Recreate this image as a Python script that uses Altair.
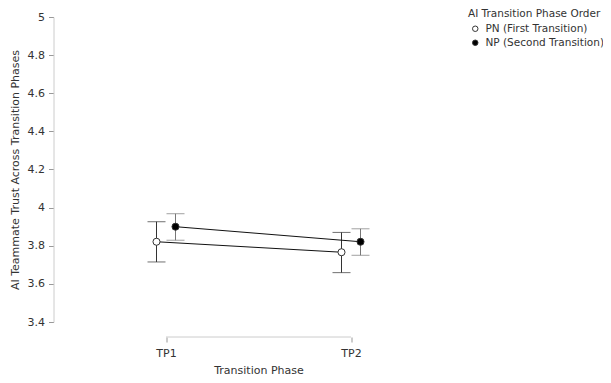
import altair as alt
import pandas as pd

phases = ["TP1", "TP2"]
orders = ["PN (First Transition)", "NP (Second Transition)"]
pn_mean = [3.821, 3.766]
pn_lower = [3.715, 3.659]
pn_upper = [3.926, 3.870]
np_mean = [3.900, 3.821]
np_lower = [3.829, 3.750]
np_upper = [3.968, 3.889]
y_ticks = [3.4, 3.6, 3.8, 4.0, 4.2, 4.4, 4.6, 4.8, 5.0]

rows = []
for i, p in enumerate(phases):
    rows.append({"phase": p, "order": orders[0], "mean": pn_mean[i], "lo": pn_lower[i], "hi": pn_upper[i]})
    rows.append({"phase": p, "order": orders[1], "mean": np_mean[i], "lo": np_lower[i], "hi": np_upper[i]})
df = pd.DataFrame(rows)

W, H = 370, 305
FONT = "DejaVu Sans"

xscale = alt.Scale(type="point", domain=phases, padding=0.5)
x_axis = alt.Axis(title="Transition Phase", labelAngle=0, labelAlign="center", domain=False,
                  offset=15, tickColor="#999999", tickSize=5, labelPadding=5, titlePadding=6)
y_axis = alt.Axis(title="AI Teammate Trust Across Transition Phases", values=y_ticks,
                  format="~g", labelOverlap=False, labelFlush=False,
                  offset=20, tickColor="#999999", tickSize=5, labelPadding=4, titlePadding=7,
                  grid=False)
xenc = alt.X("phase:N", sort=phases, scale=xscale, axis=x_axis)
xoff = alt.XOffset("order:N", scale=alt.Scale(type="point", domain=orders, range=[-9.5, 9.5], padding=0))
ysc = alt.Scale(domain=[3.4, 5.0], nice=False, zero=False)

base = alt.Chart(df)

err_color = alt.Color("order:N", scale=alt.Scale(domain=orders, range=["#333333", "#777777"]), legend=None)

rules = base.mark_rule(strokeWidth=1).encode(
    x=xenc, xOffset=xoff,
    y=alt.Y("lo:Q", scale=ysc, axis=y_axis), y2="hi:Q", color=err_color)
cap_lo = base.mark_tick(size=18, thickness=1).encode(
    x=xenc, xOffset=xoff, y=alt.Y("lo:Q", scale=ysc, axis=y_axis), color=err_color)
cap_hi = base.mark_tick(size=18, thickness=1).encode(
    x=xenc, xOffset=xoff, y=alt.Y("hi:Q", scale=ysc, axis=y_axis), color=err_color)

lines = base.mark_line(color="#111111", strokeWidth=1).encode(
    x=xenc, xOffset=xoff, y=alt.Y("mean:Q", scale=ysc, axis=y_axis), detail="order:N")

points = base.mark_point(shape="circle", size=50, opacity=1, strokeWidth=1, stroke="#333333").encode(
    x=xenc, xOffset=xoff,
    y=alt.Y("mean:Q", scale=ysc, axis=y_axis),
    fill=alt.Fill("order:N", scale=alt.Scale(domain=orders, range=["#ffffff", "#000000"]),
                  legend=alt.Legend(title="AI Transition Phase Order", orient="none",
                                    legendX=394.5, legendY=-8, symbolSize=30,
                                    symbolStrokeColor="#333333", symbolStrokeWidth=1,
                                    symbolOffset=2, labelOffset=5, rowPadding=3, titlePadding=4)))

xline = alt.Chart(pd.DataFrame({"a": [phases[0]], "b": [phases[1]]})).mark_rule(
    color="#cccccc", strokeWidth=1).encode(
    x=alt.X("a:N", scale=xscale, axis=x_axis),
    x2="b:N",
    y=alt.value(H + 15))

chart = alt.layer(rules, cap_lo, cap_hi, lines, points, xline).resolve_scale(color="independent").properties(
    width=W, height=H,
    autosize=alt.AutoSizeParams(type="none"),
    padding={"left": 65.5, "top": 9, "right": 159.5, "bottom": 53},
).configure_view(stroke=None).configure_axis(
    labelFont=FONT, titleFont=FONT, labelFontSize=11, titleFontSize=11,
    labelColor="#333333", titleColor="#333333", titleFontWeight="normal",
    domainColor="#cccccc", grid=False,
).configure_legend(
    labelFont=FONT, titleFont=FONT, labelFontSize=10.5, titleFontSize=10.5,
    labelColor="#333333", titleColor="#333333", titleFontWeight="normal",
)

chart.save("out.html", embed_options={"renderer": "svg", "actions": False})
